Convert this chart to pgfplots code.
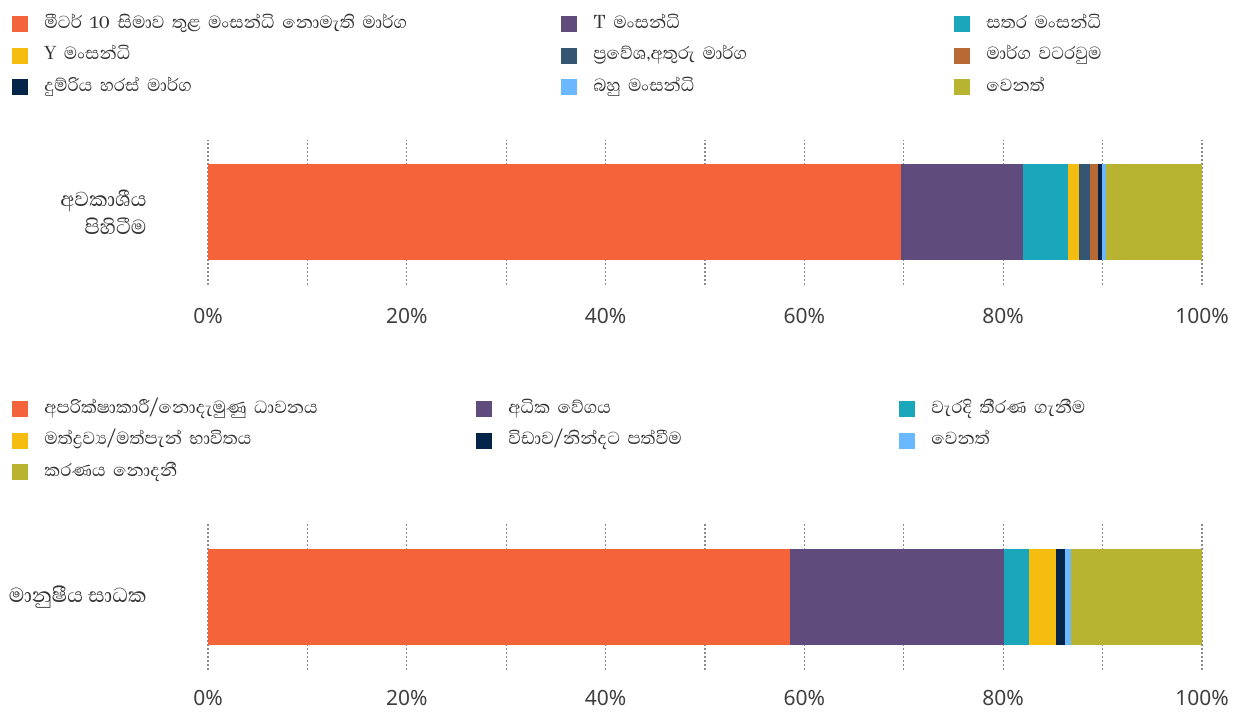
\documentclass[border=0pt]{standalone}
\usepackage{pgfplots}
\pgfplotsset{compat=1.18}
\usepackage{fontspec}
\setmainfont{Noto Sans}
\newfontfamily\sinhf[Script=Sinhala]{Abhaya Libre}
\definecolor{c1}{HTML}{F4633A}
\definecolor{c2}{HTML}{5F4B7C}
\definecolor{c3}{HTML}{1AA7BC}
\definecolor{c4}{HTML}{F5BD0F}
\definecolor{c5}{HTML}{345672}
\definecolor{c6}{HTML}{B86A35}
\definecolor{c7}{HTML}{04244A}
\definecolor{c8}{HTML}{6CB8FF}
\definecolor{c9}{HTML}{B8B432}
\definecolor{gridc}{HTML}{8A8A8A}
\definecolor{tickc}{HTML}{404040}
\definecolor{labc}{HTML}{333333}
\pgfplotsset{
  mybar/.style={
    xbar stacked, scale only axis, width=497pt,
    xmin=0, xmax=100, ymin=-0.5, ymax=0.5, bar width=48pt,
    axis line style={draw=none}, major tick length=0pt, minor tick length=0pt,
    xtick={0,20,40,60,80,100}, xticklabels={0\%,20\%,40\%,60\%,80\%,100\%},
    minor xtick={10,30,50,70,90}, xmajorgrids, xminorgrids,
    major grid style={gridc, dash pattern=on 1pt off 1pt, line width=0.6pt},
    minor grid style={gridc, dash pattern=on 1pt off 1pt, line width=0.6pt},
    ytick={0},
    xticklabel style={font=\fontsize{10.5}{12}\selectfont, text=tickc, anchor=center, inner sep=0pt, yshift=-15.5pt},
    yticklabel style={font=\sinhf\fontsize{13}{14}\selectfont, text=labc, align=right, anchor=east, inner sep=0pt, xshift=-30.5pt},
    legend columns=3,
    legend cell align=left,
    legend image code/.code={\fill[##1] (0pt,-4pt) rectangle (8pt,4pt); \path[draw=none,fill=none] (0pt,0pt) -- (16pt,0pt);},
    legend style={anchor=north west, draw=none, fill=none, inner sep=0pt,
      column sep=0pt, row sep=5.75pt, font=\sinhf\fontsize{11.2}{12}\selectfont, text=labc,
      nodes={inner sep=0pt, text height=7pt, text depth=3pt}},
  }
}
\begin{document}
\begin{tikzpicture}[x=1pt,y=1pt]
\fill[white] (0,0) rectangle (621.5,356.5);
\useasboundingbox (0,0) rectangle (621.5,356.5);
\begin{axis}[mybar, at={(104pt,214pt)}, anchor=south west, height=72.5pt,
  yticklabels={{අවකාශීය\\පිහිටීම}},
  legend style={at={(axis description cs:-0.19718,1.869)}}]
\addplot[fill=c1, draw=none] coordinates {(69.7,0)};
\addlegendentry[text width=258.5pt]{මීටර් 10 සිමාව තුළ මංසන්ධි නොමැති මාර්ග}
\addplot[fill=c2, draw=none] coordinates {(12.3,0)};
\addlegendentry[text width=180.5pt]{T මංසන්ධි}
\addplot[fill=c3, draw=none] coordinates {(4.5,0)};
\addlegendentry[text width=120pt]{සතර මංසන්ධි}
\addplot[fill=c4, draw=none] coordinates {(1.1,0)};
\addlegendentry[text width=258.5pt]{Y මංසන්ධි}
\addplot[fill=c5, draw=none] coordinates {(1.1,0)};
\addlegendentry[text width=180.5pt]{ප්‍රවේශ,අතුරු මාර්ග}
\addplot[fill=c6, draw=none] coordinates {(0.8,0)};
\addlegendentry[text width=120pt]{මාර්ග වටරවුම}
\addplot[fill=c7, draw=none] coordinates {(0.4,0)};
\addlegendentry[text width=258.5pt]{දුම්රිය හරස් මාර්ග}
\addplot[fill=c8, draw=none] coordinates {(0.4,0)};
\addlegendentry[text width=180.5pt]{බහු මංසන්ධි}
\addplot[fill=c9, draw=none] coordinates {(9.7,0)};
\addlegendentry[text width=120pt]{වෙනත්}
\end{axis}
\begin{axis}[mybar, at={(104pt,21.5pt)}, anchor=south west, height=73pt,
  xticklabel style={yshift=1.5pt},
  yticklabels={{මානුෂීය සාධක}},
  legend style={at={(axis description cs:-0.19718,1.857)}}]
\addplot[fill=c1, draw=none] coordinates {(58.6,0)};
\addlegendentry[text width=216pt]{අපරික්ෂාකාරී/නොදැමුණු ධාවනය}
\addplot[fill=c2, draw=none] coordinates {(21.5,0)};
\addlegendentry[text width=195.5pt]{අධික වේගය}
\addplot[fill=c3, draw=none] coordinates {(2.5,0)};
\addlegendentry[text width=120pt]{වැරදි තීරණ ගැනීම}
\addplot[fill=c4, draw=none] coordinates {(2.7,0)};
\addlegendentry[text width=216pt]{මත්ද්‍රව්‍ය/මත්පැන් භාවිතය}
\addplot[fill=c7, draw=none] coordinates {(0.9,0)};
\addlegendentry[text width=195.5pt]{විඩාව/නින්දට පත්වීම}
\addplot[fill=c8, draw=none] coordinates {(0.6,0)};
\addlegendentry[text width=120pt]{වෙනත්}
\addplot[fill=c9, draw=none] coordinates {(13.2,0)};
\addlegendentry[text width=216pt]{කරණය නොදනී}
\end{axis}
\end{tikzpicture}
\end{document}
